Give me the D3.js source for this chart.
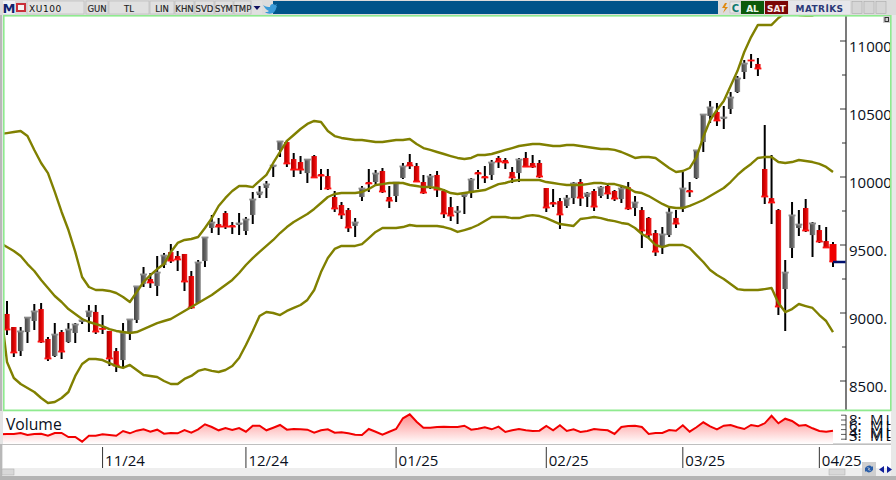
<!DOCTYPE html>
<html><head><meta charset="utf-8">
<style>html,body{margin:0;padding:0;background:#fff;overflow:hidden}svg{display:block}</style>
<script src="https://cdn.jsdelivr.net/npm/d3@7"></script></head><body>
<svg id="c" width="896" height="480"></svg>
<script>
const symbol = "XU100";
const toolButtons = ["GUN","TL","LIN","KHN","SVD","SYM","TMP"];
const priceLabels = [8500,9000,9500,10000,10500,11000];
const priceMinor = [8500,8750,9000,9250,9500,9750,10000,10250,10500,10750,11000];
const monthLabels = ["11/24","12/24","01/25","02/25","03/25","04/25"];
const monthSessions = [14,35,57,79,99,119];
const volumeLabels = [8,6,4,3];
const volumeTicks = [9.5,8,6.5,5,3.5,2];

const opens = [8993,8897,8720,8860,8941,9029,8809,8684,8860,8786,
8853,8934,8970,9008,8890,8868,8720,8654,8860,8949,
9214,9250,9199,9353,9448,9419,9434,9272,9074,9382,
9625,9654,9735,9647,9647,9603,9721,9867,9919,10073,
10199,10257,10132,10110,10029,10154,10022,10007,9853,9794,
9757,9640,9853,9963,9963,10044,9853,9860,9993,10110,
10081,9963,9934,10015,9897,9779,9735,9853,9882,10037,
10007,10015,10140,10125,10037,10029,10140,10103,10103,9919,
9816,9823,9787,9845,9963,9853,9897,9860,9934,9897,
9838,9926,9772,9757,9699,9588,9485,9573,9699,9765,
9904,9993,10257,10449,10478,10427,10500,10625,10772,10860,
10831,10059,9845,9757,9176,9478,9625,9772,9573,9610,
9529,9507];
const closes = [8875,8706,8868,8970,9015,8786,8662,8845,8713,8882,
8919,8949,9015,8860,8880,8662,8610,8860,8956,9199,
9287,9221,9301,9426,9382,9390,9228,9037,9375,9559,
9669,9632,9632,9632,9662,9691,9838,9890,9949,10088,
10265,10096,10051,10051,10132,9993,10007,9912,9765,9721,
9625,9669,9919,9949,10029,9890,9823,9963,10081,10081,
9963,9882,10007,9904,9728,9713,9750,9875,9985,10022,
9993,10110,10110,10103,9993,10132,10073,10073,10000,9772,
9801,9721,9845,9956,9845,9882,9779,9926,9875,9838,
9919,9765,9816,9603,9573,9448,9581,9742,9654,9919,
9890,10199,10463,10515,10412,10441,10588,10728,10838,10853,
10794,9853,9809,9044,9301,9721,9654,9603,9662,9522,
9478,9375];
const highs = [9088,8897,8897,8970,9066,9074,8823,8926,8875,8926,
8926,8963,9059,9059,8985,8868,8742,8926,8956,9199,
9338,9294,9419,9441,9507,9456,9434,9309,9390,9559,
9721,9699,9750,9669,9735,9706,9890,9934,9971,10088,
10265,10272,10177,10154,10132,10162,10059,10059,9897,9816,
9772,9699,9934,10059,10051,10066,9934,9963,10103,10169,
10103,10015,10022,10044,9912,9853,9787,9890,9993,10051,
10081,10125,10154,10140,10073,10140,10184,10162,10125,9919,
9912,9845,9867,9963,9985,9890,9912,9934,9949,9904,
9926,9963,9860,9779,9706,9610,9632,9772,9757,10037,
9963,10199,10463,10559,10544,10522,10625,10743,10860,10904,
10875,10382,10162,9765,9390,9816,9757,9838,9669,9647,
9632,9522];
const lows = [8838,8677,8684,8779,8875,8779,8647,8677,8662,8779,
8779,8919,8860,8845,8845,8610,8566,8596,8801,8926,
9192,9184,9125,9331,9368,9309,9162,9029,9074,9338,
9588,9573,9618,9581,9573,9573,9654,9845,9845,10000,
10147,10073,10000,10022,9956,9993,9904,9904,9743,9691,
9595,9559,9823,9890,9941,9882,9772,9816,9985,10059,
9963,9875,9912,9853,9699,9677,9654,9728,9845,9912,
9956,9978,10066,10059,9956,9963,10073,10066,9993,9743,
9779,9618,9772,9801,9787,9779,9750,9845,9838,9823,
9809,9757,9713,9478,9551,9419,9434,9559,9625,9743,
9853,9985,10184,10397,10375,10353,10463,10618,10721,10801,
10743,9801,9655,8985,8868,9404,9566,9595,9412,9515,
9478,9338];

// Band and volume series begin one session before the first visible candle.
const bollUpper = [10316,
10323,10331,10338,10301,10199,10103,10029,9890,9743,9610,
9449,9265,9191,9169,9169,9162,9147,9118,9081,9154,
9228,9279,9323,9360,9449,9515,9537,9544,9559,9625,
9698,9787,9846,9897,9934,9934,9926,9971,10015,10103,
10184,10265,10309,10353,10390,10412,10404,10338,10301,10287,
10279,10272,10272,10265,10257,10257,10265,10272,10272,10279,
10243,10213,10199,10184,10169,10154,10140,10132,10140,10162,
10162,10169,10184,10199,10213,10228,10235,10243,10243,10235,
10228,10228,10235,10235,10228,10221,10213,10206,10206,10199,
10184,10162,10140,10147,10147,10140,10103,10066,10037,10044,
10066,10147,10294,10419,10493,10559,10669,10779,10919,11029,
11118,11118,11118,11169,11206,11213,11191,11188,11188,11213,
11228,11250];
const bollMiddle = [9515,
9485,9456,9419,9360,9309,9243,9184,9125,9081,9029,
8993,8956,8934,8919,8904,8882,8868,8860,8853,8860,
8882,8904,8926,8941,8956,8985,9015,9044,9074,9103,
9132,9169,9206,9243,9294,9353,9404,9449,9493,9537,
9588,9632,9669,9698,9728,9765,9809,9853,9875,9882,
9882,9882,9890,9912,9941,9948,9956,9956,9956,9941,
9934,9926,9926,9919,9904,9882,9875,9882,9890,9897,
9904,9926,9948,9956,9971,9978,9978,9978,9978,9963,
9956,9948,9941,9941,9941,9948,9956,9956,9948,9948,
9934,9919,9890,9882,9860,9831,9802,9779,9772,9772,
9787,9809,9831,9860,9890,9919,9963,10015,10059,10096,
10140,10147,10147,10110,10103,10110,10125,10118,10110,10096,
10074,10037];
const bollLower = [9065,
8640,8522,8478,8449,8419,8375,8338,8346,8375,8419,
8537,8625,8662,8662,8654,8632,8610,8596,8618,8581,
8544,8537,8529,8500,8478,8478,8515,8537,8574,8588,
8574,8566,8581,8610,8669,8765,8868,8978,9007,9000,
8985,9015,9037,9059,9096,9169,9301,9404,9471,9493,
9493,9493,9507,9551,9596,9625,9625,9625,9632,9647,
9640,9640,9640,9640,9632,9618,9596,9610,9625,9647,
9676,9706,9706,9706,9698,9698,9713,9720,9713,9698,
9676,9654,9647,9640,9691,9698,9706,9698,9684,9676,
9662,9654,9625,9581,9551,9500,9485,9500,9500,9500,
9478,9426,9375,9316,9279,9250,9213,9176,9169,9169,
9169,9176,9184,9074,9007,9029,9066,9051,9037,8985,
8941,8860];
const volumes = [3.53,
3.63,3.63,3.94,3.31,3.63,3.72,3.09,3.94,3.94,2.69,
2.69,1.22,3.09,3.09,3.53,3.31,3.09,4.56,3.84,4.66,
5.09,4.34,4.97,3.72,3.94,3.84,4.88,4.03,5.09,6.66,
5.81,4.78,5.5,4.88,5.5,4.34,6.22,6.22,4.78,5.59,
6.44,4.97,5.19,5.09,4.97,4.03,4.78,5.09,4.03,4.16,
3.84,3.41,3.31,5.19,4.34,3.41,4.34,5.19,8.53,9.78,
7.47,5.59,5.59,5.81,5.91,5.81,5.81,6.22,4.97,5.28,
5.72,5.09,5.91,4.25,4.78,5.19,4.78,4.56,4.66,6.13,
4.78,6.34,4.56,5.09,4.25,4.56,5.19,4.97,4.78,3.63,
5.81,6.13,6.22,5.81,3.63,3.94,3.94,4.88,4.66,6.34,
4.34,5.72,7.28,6.03,5.09,6.22,6.44,5.72,5.19,6.44,
6.03,6.97,9.34,6.97,8.41,7.69,6.22,6.44,5.41,4.56,
4.34,4.66];

const svg = d3.select("#c");
const x = d3.scaleLinear().domain([0,121]).range([7,833]);
const y = d3.scaleLinear().domain([8500,11000]).range([381,41]);
const yv = d3.scaleLinear().domain([0,10]).range([445.6,413.6]);
const FONT = "'Open Sans', sans-serif";
const TOOLFONT = "'DejaVu Sans', sans-serif";

const defs = svg.append("defs");
function grad(id, stops, vertical){
  const g = defs.append("linearGradient").attr("id",id)
    .attr("x1",0).attr("y1",0).attr("x2",vertical?0:1).attr("y2",vertical?1:0);
  stops.forEach(s=>g.append("stop").attr("offset",s[0]).attr("stop-color",s[1]));
}
grad("grayBody",[[0,"#454545"],[0.6,"#666"],[1,"#949494"]]);
grad("redBody",[[0,"#a80000"],[0.5,"#dd0000"],[1,"#ee2020"]]);
grad("volFill",[[0,"#ff8e8e"],[1,"#ffffff"]],true);
defs.append("clipPath").attr("id","plot").append("rect").attr("x",3.5).attr("y",15.5).attr("width",842).attr("height",394);
defs.append("clipPath").attr("id","right").append("rect").attr("x",846).attr("y",15).attr("width",44.5).attr("height",395);
defs.append("clipPath").attr("id","rightV").append("rect").attr("x",846).attr("y",411).attr("width",44.5).attr("height",33);

// window chrome
svg.append("rect").attr("width",896).attr("height",480).attr("fill","#e4e4e4");
svg.append("rect").attr("x",3).attr("y",15).attr("width",888).attr("height",429).attr("fill","#fff");
svg.append("rect").attr("x",3).attr("y",445).attr("width",888).attr("height",23).attr("fill","#fff");
svg.append("rect").attr("x",0).attr("y",0).attr("width",2).attr("height",480).attr("fill","#b8b8b8");
svg.append("rect").attr("x",0).attr("y",476).attr("width",896).attr("height",4).attr("fill","#b4b4b4");
svg.append("rect").attr("x",3).attr("y",468).attr("width",888).attr("height",8).attr("fill","#eeeeee");
svg.append("rect").attr("x",2).attr("y",443.5).attr("width",890).attr("height",1.2).attr("fill","#b0b0b0");
svg.append("rect").attr("x",891).attr("y",15).attr("width",5).attr("height",461).attr("fill","#e8e8e8");

// toolbar
svg.append("rect").attr("x",0).attr("y",0).attr("width",896).attr("height",15).attr("fill","#dcdcdc");
svg.append("rect").attr("x",273).attr("y",1).attr("width",445).attr("height",13).attr("fill","#00548a");
const tb = svg.append("g").style("font-family",TOOLFONT);
tb.append("rect").attr("x",3).attr("y",1).attr("width",12).attr("height",13).attr("fill","#eef1f5");
tb.append("text").attr("x",9).attr("y",12.5).attr("text-anchor","middle").attr("font-size",13).attr("font-weight","bold").attr("fill","#12246e").text("M");
tb.append("rect").attr("x",16).attr("y",3).attr("width",10).attr("height",9).attr("fill","#c9303a");
tb.append("rect").attr("x",18).attr("y",5).attr("width",6).attr("height",5).attr("fill","#f4f4f4");
tb.append("rect").attr("x",27).attr("y",1).attr("width",57).attr("height",13).attr("fill","#e3e3e3").attr("stroke","#bbb").attr("stroke-width",.7);
tb.append("text").attr("x",29).attr("y",11.5).attr("font-size",9).attr("letter-spacing",.6).attr("fill","#111").text(symbol);
const btnX = [86,109,150,175,195,215,234];
const btnW = [22,40,24,19,19,18,17];
toolButtons.forEach((t,i)=>{
  tb.append("rect").attr("x",btnX[i]).attr("y",1).attr("width",btnW[i]).attr("height",13).attr("fill","#e0e0e0").attr("stroke","#bbb").attr("stroke-width",.7);
  tb.append("text").attr("x",btnX[i]+btnW[i]/2).attr("y",11.5).attr("text-anchor","middle").attr("font-size",8.5).attr("stroke","#222").attr("stroke-width",.15).attr("fill","#222").text(t);
});
tb.append("rect").attr("x",252).attr("y",1).attr("width",10).attr("height",13).attr("fill","#e0e0e0");
tb.append("path").attr("d","M253.5 6h7l-3.5 4z").attr("fill","#101060");
tb.append("path").attr("d","M263 5c3 2 5 2 7 2c0-3 3-4 5-2l2-1l-1 2l1 0c-1 2-1 5-4 7c-3 1-6 1-8-1c2 0 3 0 4-1c-3-1-4-3-6-6z").attr("fill","#3a9bd8");
tb.append("rect").attr("x",718).attr("y",1).attr("width",178).attr("height",13).attr("fill","#dcdcdc");
tb.append("path").attr("d","M725 3l-3 5h3l-2 5l5-6h-3l2-4z").attr("fill","#e08a10");
tb.append("rect").attr("x",730).attr("y",2).attr("width",11).attr("height",11).attr("fill","#e8e8e8").attr("stroke","#bbb").attr("stroke-width",.6);
tb.append("text").attr("x",735.5).attr("y",11.5).attr("text-anchor","middle").attr("font-size",10).attr("font-weight","bold").attr("fill","#0e7a6e").text("C");
tb.append("rect").attr("x",741).attr("y",1).attr("width",23).attr("height",13).attr("fill","#0b5a0b");
tb.append("text").attr("x",752.5).attr("y",11.5).attr("text-anchor","middle").attr("font-size",9).attr("font-weight","bold").attr("fill","#eaf7ea").text("AL");
tb.append("rect").attr("x",765).attr("y",1).attr("width",23).attr("height",13).attr("fill","#7a0505");
tb.append("text").attr("x",776.5).attr("y",11.5).attr("text-anchor","middle").attr("font-size",9).attr("font-weight","bold").attr("fill","#f7eaea").text("SAT");
tb.append("rect").attr("x",789).attr("y",1).attr("width",61).attr("height",13).attr("fill","#e6e6ea");
tb.append("text").attr("x",819.5).attr("y",11.5).attr("text-anchor","middle").attr("font-size",9).attr("letter-spacing",.4).attr("font-weight","bold").attr("fill","#2c3a78").text("MATRİKS");
[852,864,876].forEach(a=>tb.append("rect").attr("x",a).attr("y",1.5).attr("width",10).attr("height",12).attr("fill","#d6d6d6").attr("stroke","#aaa").attr("stroke-width",.6));

// volume panel
const vArea = d3.area().x((d,i)=>x(i-1)).y0(444).y1(d=>yv(d));
const vLine = d3.line().x((d,i)=>x(i-1)).y(d=>yv(d));
const vg = svg.append("g");
vg.append("path").datum(volumes).attr("d",vArea).attr("fill","url(#volFill)");
vg.append("path").datum(volumes).attr("d",vLine).attr("fill","none").attr("stroke","#f20000").attr("stroke-width",2);
svg.append("rect").attr("x",0).attr("y",411).attr("width",3).attr("height",33).attr("fill","#e4e4e4");
svg.append("text").attr("x",6).attr("y",430).attr("font-family",FONT).attr("font-size",15.7).attr("fill","#0a0f20").text("Volume");
svg.append("line").attr("x1",846).attr("x2",846).attr("y1",415).attr("y2",440).attr("stroke","#333").attr("stroke-width",1);
volumeTicks.forEach(v=>svg.append("line").attr("x1",841).attr("x2",846).attr("y1",yv(v)).attr("y2",yv(v)).attr("stroke","#333").attr("stroke-width",.8));
const vl = svg.append("g").attr("clip-path","url(#rightV)").attr("font-family",FONT).attr("font-size",15).attr("fill","#0a0f20");
volumeLabels.forEach(v=>{
  vl.append("text").attr("x",849).attr("y",yv(v)+5).text(v+":");
  vl.append("text").attr("x",870).attr("y",yv(v)+5).attr("letter-spacing",2).text("ML");
});

// price axis
svg.append("line").attr("x1",846).attr("x2",846).attr("y1",15).attr("y2",410).attr("stroke","#333").attr("stroke-width",1.3);
svg.append("g").selectAll("line").data(priceMinor).join("line")
  .attr("x1",d=>priceLabels.includes(d)?840:842).attr("x2",846).attr("y1",d=>y(d)).attr("y2",d=>y(d)).attr("stroke","#333").attr("stroke-width",1);
svg.append("g").attr("clip-path","url(#right)").selectAll("text").data(priceLabels).join("text")
  .attr("x",849).attr("y",d=>y(d)+11).attr("font-family",FONT).attr("font-size",15).attr("fill","#0a0f20").text(d=>d+".");

// month axis
const mg = svg.append("g").selectAll("g").data(monthLabels).join("g");
mg.append("line").attr("x1",(d,i)=>x(monthSessions[i])).attr("x2",(d,i)=>x(monthSessions[i])).attr("y1",447).attr("y2",468).attr("stroke","#333").attr("stroke-width",1);
mg.append("text").attr("x",(d,i)=>x(monthSessions[i])+2.5).attr("y",465.5).attr("font-family",FONT).attr("font-size",15).attr("fill","#0a0f20").text(d=>d);

// scrollbar bits
svg.append("rect").attr("x",2).attr("y",469).attr("width",12).attr("height",6).attr("fill","#d8d8d8").attr("stroke","#aaa").attr("stroke-width",.5);
svg.append("rect").attr("x",829).attr("y",469).attr("width",16).attr("height",6).attr("fill","#d8d8d8").attr("stroke","#aaa").attr("stroke-width",.5);
svg.append("rect").attr("x",862).attr("y",462).attr("width",14).attr("height",14).attr("fill","#cfcfcf");
svg.append("path").attr("d","M865 470a4 4 0 0 1 7-3l1-1v4h-4l1-1a2 2 0 0 0-4 1zM873 468a4 4 0 0 1-7 3l-1 1v-4h4l-1 1a2 2 0 0 0 4-1z").attr("fill","#2a5ea8");
svg.append("path").attr("d","M884 466v7l-5-3.5zM887 466l5 3.5l-5 3.5z").attr("fill","#101f9a");

// candles
const plot = svg.append("g").attr("clip-path","url(#plot)");
const sessions = d3.range(closes.length);
const LAST = closes.length-1;
plot.selectAll("line.w").data(sessions).join("line").attr("class","w")
  .attr("x1",i=>x(i)).attr("x2",i=>x(i)).attr("y1",i=>y(highs[i])).attr("y2",i=>y(lows[i]))
  .attr("stroke","#000").attr("stroke-width",2);
plot.selectAll("rect.b").data(sessions).join("rect").attr("class","b")
  .attr("x",i=>x(i)-(i===LAST?3.5:2.7)).attr("width",i=>i===LAST?7:5.4)
  .attr("y",i=>y(Math.max(opens[i],closes[i])))
  .attr("height",i=>Math.max(.5,Math.abs(y(opens[i])-y(closes[i]))))
  .attr("fill",i=>i===LAST?"#f00000":closes[i]>=opens[i]?"url(#grayBody)":"url(#redBody)");
plot.selectAll("rect.k").data(sessions).join("rect").attr("class","k")
  .attr("x",i=>x(i)-3.5).attr("width",7).attr("height",1.8)
  .attr("y",i=>y(closes[i])-(closes[i]>=opens[i]?0.4:1.4))
  .attr("fill",i=>closes[i]>=opens[i]?"#8a8a8a":"#ff1010");

// bands
const bLine = d3.line().x((d,i)=>x(i-1)).y(d=>y(d));
[bollUpper,bollMiddle,bollLower].forEach(s=>{
  plot.append("path").datum(s).attr("d",bLine).attr("fill","none").attr("stroke","#808000").attr("stroke-width",2.4).attr("stroke-linejoin","round");
});

// last price marker
plot.append("line").attr("x1",x(LAST)).attr("x2",846).attr("y1",y(closes[LAST])).attr("y2",y(closes[LAST])).attr("stroke","#00106e").attr("stroke-width",2.6);

// green frame
const frame = [[3,15,888,1.6],[3,15,1.6,396],[890,15,1.6,396],[3,409.5,888,1.8]];
frame.forEach(f=>svg.append("rect").attr("x",f[0]).attr("y",f[1]).attr("width",f[2]).attr("height",f[3]).attr("fill","#8fea8f"));
svg.append("rect").attr("x",883).attr("y",16).attr("width",7).attr("height",7).attr("fill","#cfcfcf");
svg.append("rect").attr("x",885).attr("y",17.5).attr("width",3.5).attr("height",4).attr("fill","none").attr("stroke","#222").attr("stroke-width",.9);
</script></body></html>
